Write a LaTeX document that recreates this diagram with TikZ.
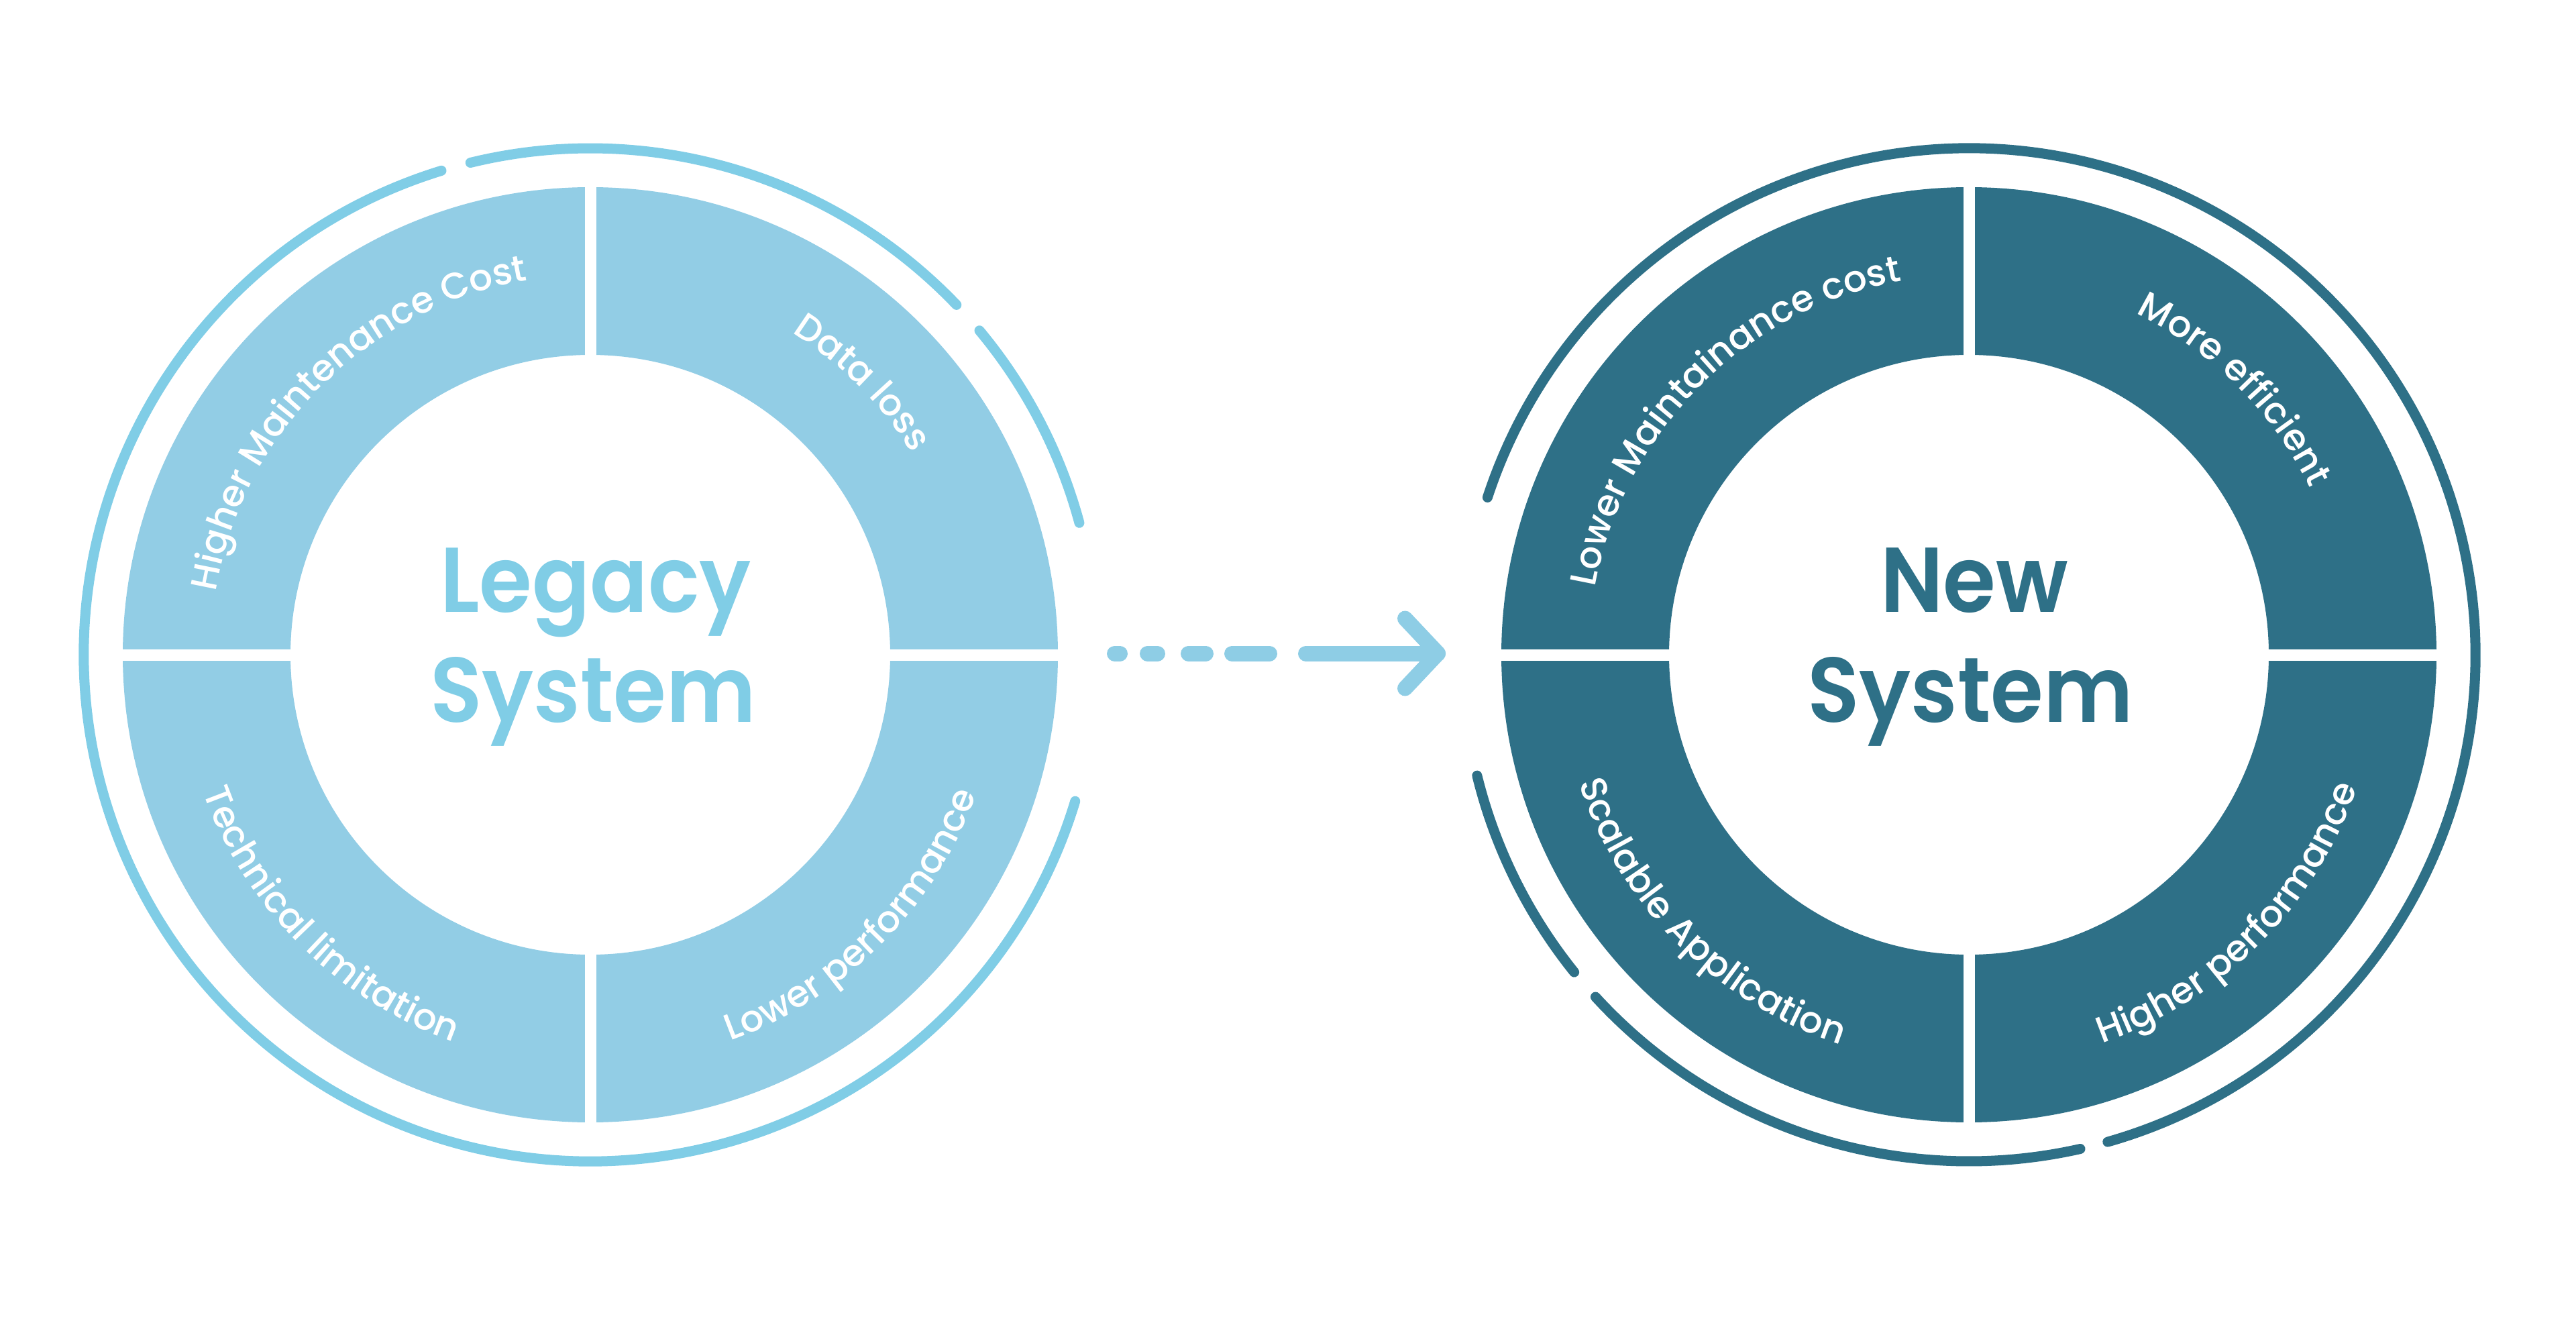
\documentclass[tikz,border=0pt]{standalone}
\usepackage{fontspec}
\setmainfont{Poppins}
\newfontfamily\titlefamily{Poppins}[UprightFont=* SemiBold, FakeStretch=0.93]
\newfontfamily\labelfamily{Poppins}[UprightFont=* Medium]
\usetikzlibrary{decorations.text,calc}
\definecolor{legring}{HTML}{92CDE5}
\definecolor{legline}{HTML}{80CDE6}
\definecolor{legarrow}{HTML}{8ECDE5}
\definecolor{newring}{HTML}{2E7087}
\newcommand\lblfont{\labelfamily\fontsize{15.6}{19}\selectfont\color{white}}
\tikzset{
  ringfill/.style={fill=#1, even odd rule},
  gapline/.style={draw=white, line width=0.17cm},
  outerarc/.style={draw=#1, line width=0.15cm, line cap=round},
  titletext/.style={font=\titlefamily\fontsize{39}{47}\selectfont, text=#1, anchor=base, inner sep=0pt},
  arrowline/.style={draw=legarrow, line width=0.23cm, line cap=round, line join=round},
}
\newcommand\ringlabel[5]{%
  % #1 center, #2 start angle, #3 end angle, #4 radius, #5 text
  \path[decorate, decoration={text along path, text align=center, text={|\lblfont|#5}}]
    ($(#1)+(#2:#4)$) arc[start angle=#2, end angle=#3, radius=#4];
}
\begin{document}
\begin{tikzpicture}
\useasboundingbox (0,0) rectangle (38.40,-19.81);
\coordinate (L) at (8.80,-9.76);
\coordinate (N) at (29.35,-9.76);

% ---------- Legacy system ----------
\fill[ringfill=legring] (L) circle[radius=6.97cm] (L) circle[radius=4.47cm];
\draw[gapline] ($(L)+(-7.05,0)$) -- ($(L)+(7.05,0)$);
\draw[gapline] ($(L)+(0,-7.05)$) -- ($(L)+(0,7.05)$);
\draw[outerarc=legline] ($(L)+(107.1:7.55)$) arc[start angle=107.1, end angle=343.2, radius=7.55cm];
\draw[outerarc=legline] ($(L)+(43.7:7.55)$) arc[start angle=43.7, end angle=103.7, radius=7.55cm];
\draw[outerarc=legline] ($(L)+(15.1:7.55)$) arc[start angle=15.1, end angle=39.8, radius=7.55cm];
\ringlabel{L}{180}{90}{5.66cm}{Higher Maintenance Cost}
\ringlabel{L}{90}{0}{5.66cm}{Data loss}
\ringlabel{L}{180}{270}{6.12cm}{Technical limitation}
\ringlabel{L}{270}{360}{6.12cm}{Lower performance}
\node[titletext=legline] (legacy1) at (8.88,-9.12) {Legacy};
\node[titletext=legline] (legacy2) at (8.84,-10.76) {System};

% ---------- New system ----------
\fill[ringfill=newring] (N) circle[radius=6.97cm] (N) circle[radius=4.47cm];
\draw[gapline] ($(N)+(-7.05,0)$) -- ($(N)+(7.05,0)$);
\draw[gapline] ($(N)+(0,-7.05)$) -- ($(N)+(0,7.05)$);
\draw[outerarc=newring] ($(N)+(-74.1:7.55)$) arc[start angle=-74.1, end angle=161.9, radius=7.55cm];
\draw[outerarc=newring] ($(N)+(193.8:7.55)$) arc[start angle=193.8, end angle=218.8, radius=7.55cm];
\draw[outerarc=newring] ($(N)+(222.5:7.55)$) arc[start angle=222.5, end angle=282.7, radius=7.55cm];
\ringlabel{N}{180}{90}{5.66cm}{Lower Maintainance cost}
\ringlabel{N}{90}{0}{5.66cm}{More efficient}
\ringlabel{N}{180}{270}{6.12cm}{Scalable Application}
\ringlabel{N}{270}{360}{6.12cm}{Higher performance}
\node[titletext=newring] (new1) at (29.43,-9.12) {New};
\node[titletext=newring] (new2) at (29.37,-10.76) {System};

% ---------- Arrow ----------
\coordinate (arrowstart) at (16.615,-9.74);
\coordinate (arrowtip) at (21.435,-9.74);
\draw[arrowline, dash pattern=on 0.08cm off 0.41cm on 0.15cm off 0.46cm on 0.26cm off 0.39cm on 0.56cm off 0.54cm on 3cm off 1cm]
  (arrowstart) -- (arrowtip);
\draw[arrowline] ($(arrowtip)+(-0.49,0.52)$) -- (arrowtip) -- ($(arrowtip)+(-0.49,-0.52)$);
\end{tikzpicture}
\end{document}
